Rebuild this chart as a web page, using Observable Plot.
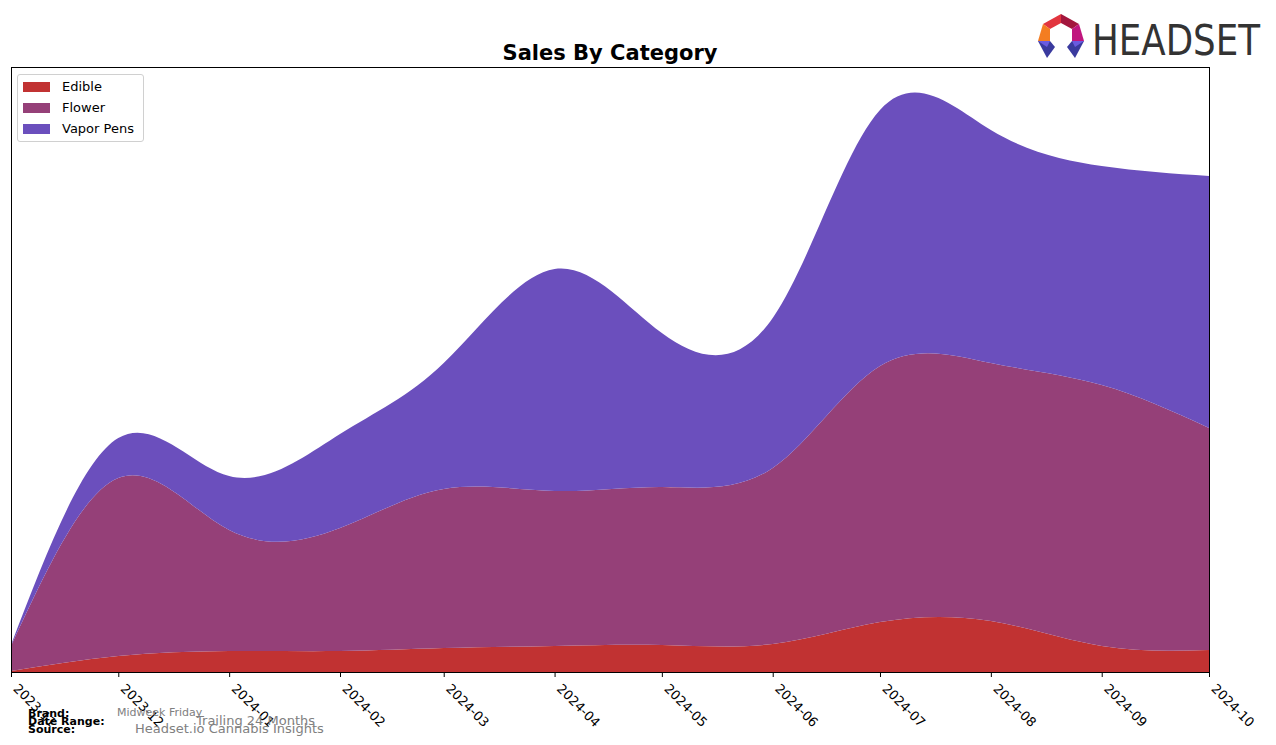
<!DOCTYPE html>
<html>
<head>
<meta charset="utf-8">
<script src="https://cdn.jsdelivr.net/npm/d3@7"></script>
<script src="https://cdn.jsdelivr.net/npm/@observablehq/plot@0.6"></script>
<style>
  html, body { margin: 0; padding: 0; background: #fff; }
  #wrap { position: relative; width: 1276px; height: 745px; overflow: hidden; font-family: "DejaVu Sans", sans-serif; }
  #chart { position: absolute; left: 0; top: 0; }
  .abs { position: absolute; white-space: nowrap; }
  #title { left: 0; width: 1220px; top: 40px; text-align: center; font-weight: bold; font-size: 21px; line-height: 26px; color: #000; }
  #legend { left: 17px; top: 74px; width: 125px; height: 66px; border: 1px solid #d0d0d0; border-radius: 3px; background: rgba(255,255,255,0.9); }
  .lrow { position: absolute; left: 5px; font-size: 13px; color: #000; }
  .sw { display: inline-block; width: 27px; height: 10px; vertical-align: middle; margin-right: 12px; position: relative; top: -1px; }
  .fl { font-size: 11px; font-weight: bold; color: #000; left: 28px; }
  .fv { color: #808080; }
</style>
</head>
<body>
<div id="wrap">
  <div id="chart"></div>
  <div id="title" class="abs">Sales By Category</div>
  <div id="legend" class="abs"></div>
  <svg class="abs" style="left:1030px;top:5px;overflow:visible" width="246" height="60" viewBox="1030 5 246 60">
    <polygon points="1043,24 1061,14 1061,23 1050,29" fill="#e2353f"/>
    <polygon points="1061,14 1079,24 1072,29 1061,23" fill="#a3163d"/>
    <polygon points="1043,24 1050,29 1050,41 1038,41" fill="#f47d21"/>
    <polygon points="1079,24 1084,41 1072,41 1072,29" fill="#c0167e"/>
    <polygon points="1038,41 1050,41 1055,47 1047,58" fill="#3a3a9e"/>
    <polygon points="1038,41 1050,41 1047,47" fill="#6a5be0"/>
    <polygon points="1072,41 1084,41 1075,58 1067,47" fill="#3a3a9e"/>
    <polygon points="1072,41 1084,41 1075,47" fill="#6a5be0"/>
    <text x="1092" y="55" font-family="'DejaVu Sans Condensed', 'DejaVu Sans', sans-serif" font-stretch="condensed" font-size="42" fill="#333" textLength="168" lengthAdjust="spacingAndGlyphs">HEADSET</text>
  </svg>
  <div class="abs fl" style="top:707px">Brand:</div>
  <div class="abs fl" style="top:715px">Date Range:</div>
  <div class="abs fl" style="top:723px">Source:</div>
  <div class="abs fv" style="left:117px;top:706px;font-size:11px">Midweek Friday</div>
  <div class="abs fv" style="left:196px;top:713px;font-size:13px">Trailing 24 Months</div>
  <div class="abs fv" style="left:135px;top:721px;font-size:13px">Headset.io Cannabis Insights</div>
</div>
<script>
// ---- data ----
const months = ["2023-11","2023-12","2024-01","2024-02","2024-03","2024-04","2024-05","2024-06","2024-07","2024-08","2024-09","2024-10"];
const categories = ["Edible", "Flower", "Vapor Pens"];
const colors = ["#c13232", "#954078", "#6b4fbd"];
const edible    = [1, 16, 21, 21, 24, 26, 27, 28, 50, 51, 26, 22];
const flower    = [25, 178, 121, 123, 159, 155, 158, 176, 256, 258, 261, 222];
const vaporPens = [1, 40, 54, 94, 126, 222, 154, 150, 256, 233, 219, 252];
const tickLabels = months;

const parse = d3.utcParse("%Y-%m");
const seriesValues = [edible, flower, vaporPens];
const rows = [];
categories.forEach((c, i) => {
  months.forEach((m, j) => rows.push({date: parse(m), category: c, value: seriesValues[i][j]}));
});
const tickDates = tickLabels.map(parse);

const chart = Plot.plot({
  width: 1276,
  height: 745,
  marginTop: 67,
  marginBottom: 73,
  marginLeft: 11,
  marginRight: 67,
  style: {fontFamily: "'DejaVu Sans', sans-serif", fontSize: "13px", color: "#000", background: "transparent"},
  x: {type: "utc", domain: [tickDates[0], tickDates[tickDates.length - 1]]},
  y: {domain: [0, 605], axis: null},
  color: {domain: categories, range: colors},
  marks: [
    Plot.areaY(rows, {x: "date", y: "value", fill: "category", z: "category", curve: "natural", order: categories}),
    Plot.frame({stroke: "#000", strokeWidth: 1}),
    // tick marks
    Plot.axisX({ticks: tickDates, text: null, tickSize: 5, label: null, stroke: "#000"}),
    // rotated tick labels
    Plot.axisX({
      ticks: tickDates,
      tickFormat: d3.utcFormat("%Y-%m"),
      tickRotate: 45,
      tickSize: 0,
      tickPadding: 14,
      dx: 4,
      label: null,
      fontSize: 13,
      fill: "#000"
    })
  ]
});
document.getElementById("chart").appendChild(chart);

const legend = document.getElementById("legend");
categories.forEach((c, i) => {
  const row = document.createElement("div");
  row.className = "lrow";
  row.style.top = (4 + i * 21) + "px";
  row.innerHTML = `<span class="sw" style="background:${colors[i]}"></span>${c}`;
  legend.appendChild(row);
});
</script>
</body>
</html>
